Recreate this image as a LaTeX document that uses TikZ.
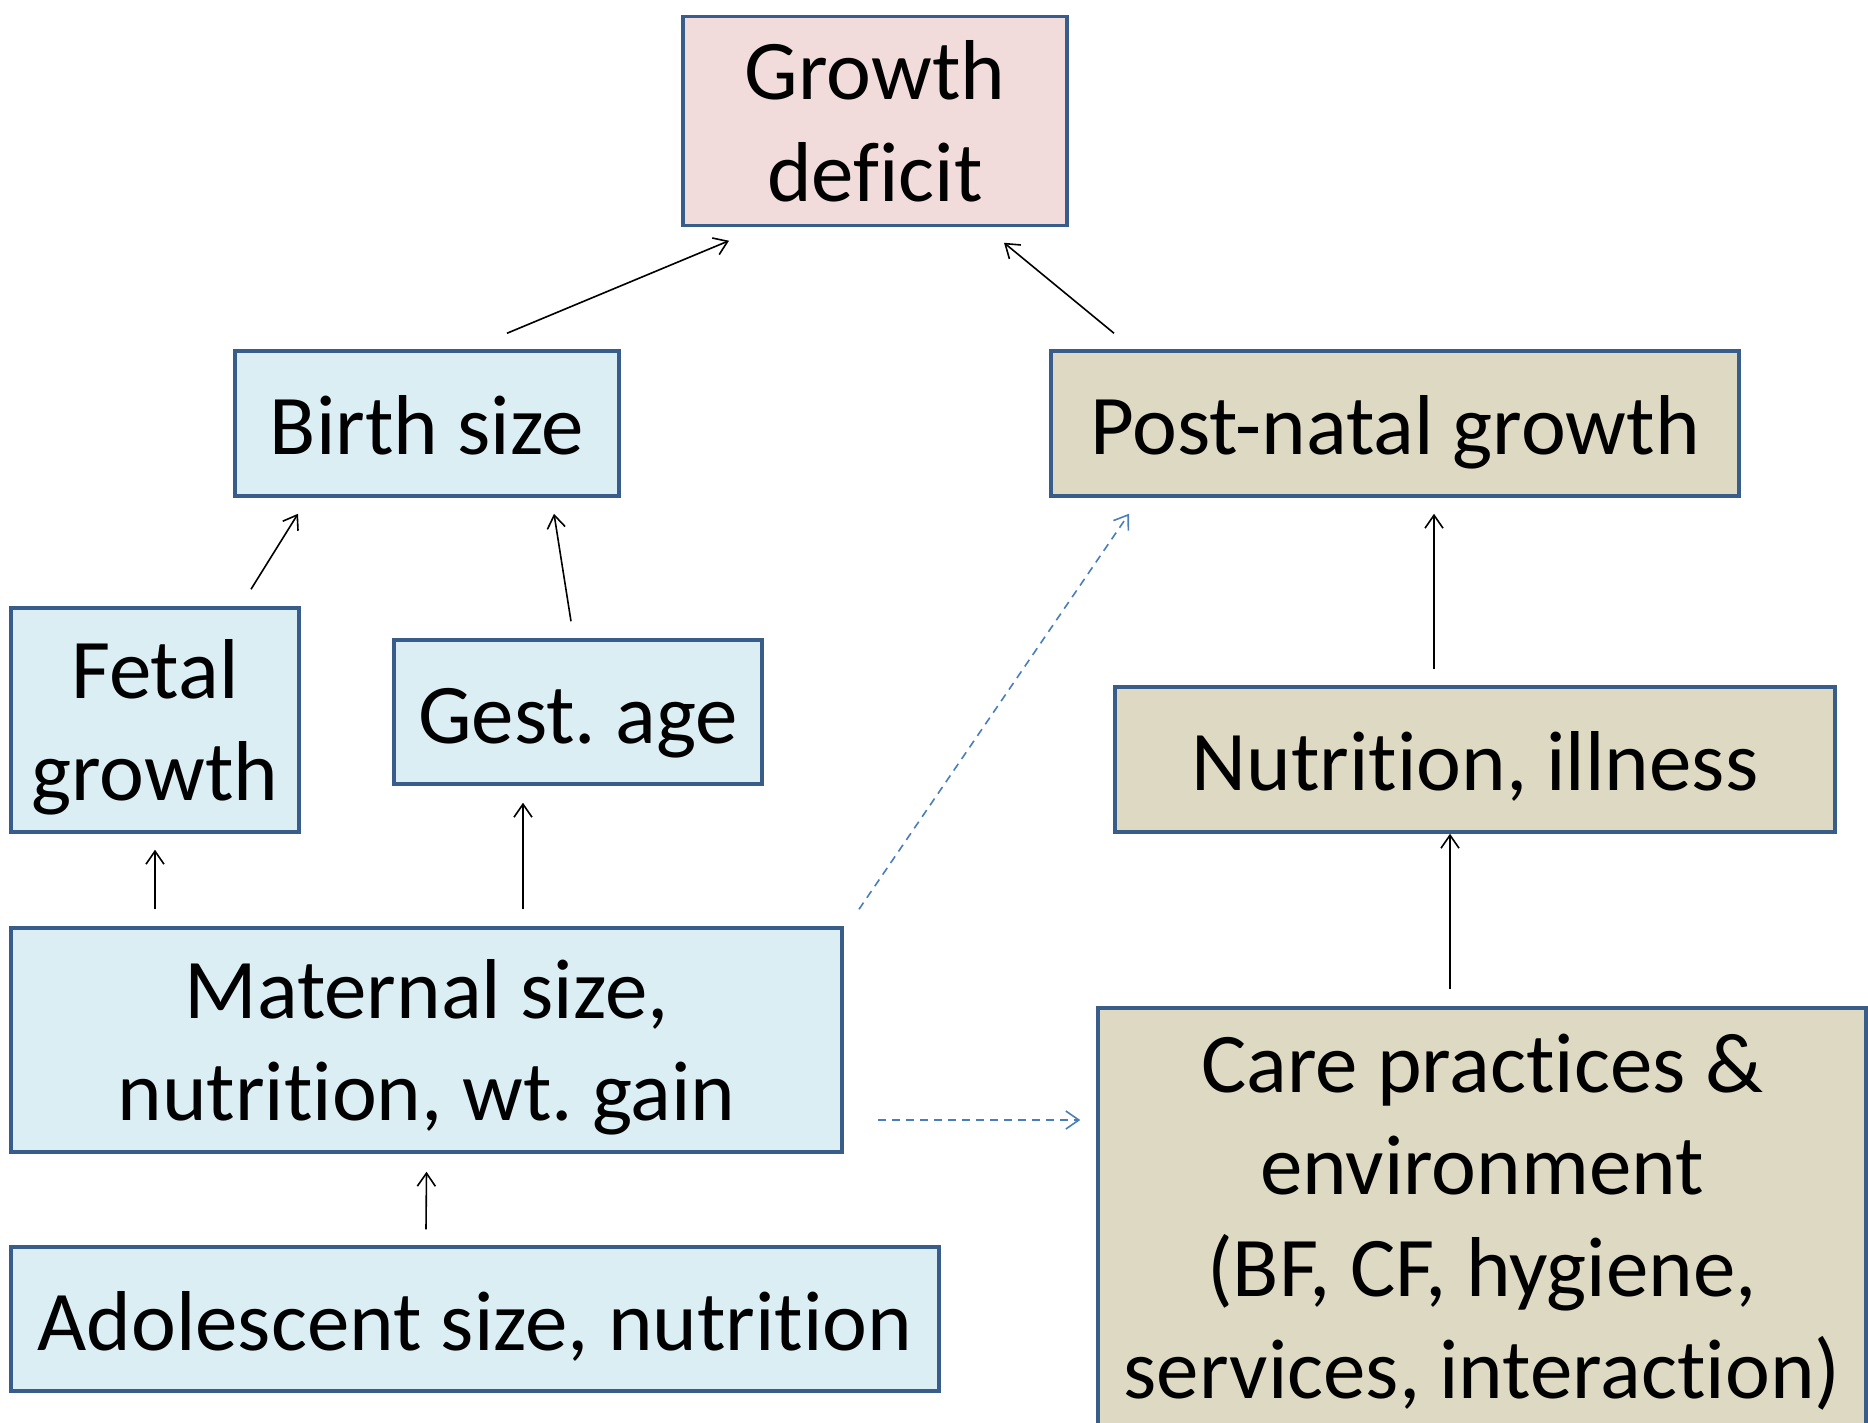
\documentclass[tikz,border=0pt]{standalone}
\usepackage{fontspec}
\setmainfont{Carlito}[Ligatures=NoCommon]
\usetikzlibrary{arrows.meta}
\frenchspacing
\definecolor{bordc}{RGB}{56,93,138}
\definecolor{bluef}{RGB}{219,238,244}
\definecolor{pinkf}{RGB}{242,220,219}
\definecolor{tanf}{RGB}{221,217,195}
\definecolor{dashc}{RGB}{74,126,187}
\tikzset{
  box/.style={draw=bordc, line width=3.5pt, inner sep=0pt, align=center,
    font=\fontsize{85}{102}\selectfont},
  bluebox/.style={box, fill=bluef},
  tanbox/.style={box, fill=tanf},
  pinkbox/.style={box, fill=pinkf},
  oneline/.style={text height=62pt, text depth=0pt},
  arr/.style={line width=1.6pt, black, -{Straight Barb[length=13pt,width=18pt,line width=1.6pt]}},
  darr/.style={line width=1.6pt, dashc, dash pattern=on 8pt off 6pt, -{Straight Barb[length=13pt,width=18pt,line width=1.6pt]}}
}
\begin{document}
\begin{tikzpicture}[x=1pt,y=-1pt]
\useasboundingbox (0,0) rectangle (1868,1422);
\node[pinkbox, minimum width=384pt, minimum height=209pt] (gd) at (875,121) {Growth\\deficit};
\node[bluebox, oneline, minimum width=384pt, minimum height=145pt] (bs) at (427,423.5) {Birth size};
\node[tanbox, oneline, minimum width=688pt, minimum height=145pt] (pn) at (1395,423.5) {Post-natal growth};
\node[bluebox, text depth=0pt, minimum width=288pt, minimum height=224pt] (fg) at (155,720) {Fetal\\growth};
\node[bluebox, oneline, minimum width=368pt, minimum height=144pt] (ga) at (578,712) {Gest. age};
\node[tanbox, oneline, minimum width=720pt, minimum height=145pt] (ni) at (1475,759.5) {Nutrition, illness};
\node[bluebox, text depth=0pt, minimum width=831pt, minimum height=224pt] (ms) at (426.5,1040) {Maternal size,\\nutrition, wt. gain};
\node[bluebox, oneline, minimum width=928pt, minimum height=144pt] (ad) at (475,1319) {Adolescent size, nutrition};
\node[tanbox, minimum width=768pt, minimum height=428pt] (cp) at (1482,1222) {Care practices \&\\environment\\(BF, CF, hygiene,\\services, interaction)};
% connectors
\draw[arr] ([xshift=80pt,yshift=16pt]bs.north) -- ([xshift=-146pt,yshift=-13.5pt]gd.south);
\draw[arr] ([xshift=-281pt,yshift=16pt]pn.north) -- ([xshift=129pt,yshift=-15.5pt]gd.south);
\draw[arr] ([xshift=96pt,yshift=17pt]fg.north) -- ([xshift=-129pt,yshift=-16pt]bs.south);
\draw[arr] ([xshift=-7pt,yshift=17pt]ga.north) -- ([xshift=127pt,yshift=-16pt]bs.south);
\draw[arr] ([xshift=-271.5pt,yshift=17pt]ms.north) -- ([yshift=-16pt]fg.south);
\draw[arr] ([xshift=96.5pt,yshift=17pt]ms.north) -- ([xshift=-55pt,yshift=-17pt]ga.south);
\draw[arr] ([xshift=-41pt,yshift=16pt]ni.north) -- ([xshift=39pt,yshift=-16pt]pn.south);
\draw[arr] ([xshift=-32pt,yshift=17pt]cp.north) -- ([xshift=-25pt,yshift=0pt]ni.south);
\draw[arr] ([xshift=-49pt,yshift=16pt]ad.north) -- ([yshift=-18pt]ms.south);
\draw[darr] ([xshift=432.5pt,yshift=17pt]ms.north) -- ([xshift=-266pt,yshift=-16pt]pn.south);
\draw[darr] ([xshift=34pt,yshift=-80pt]ms.east) -- ([xshift=-16pt,yshift=102pt]cp.west);
\end{tikzpicture}
\end{document}
